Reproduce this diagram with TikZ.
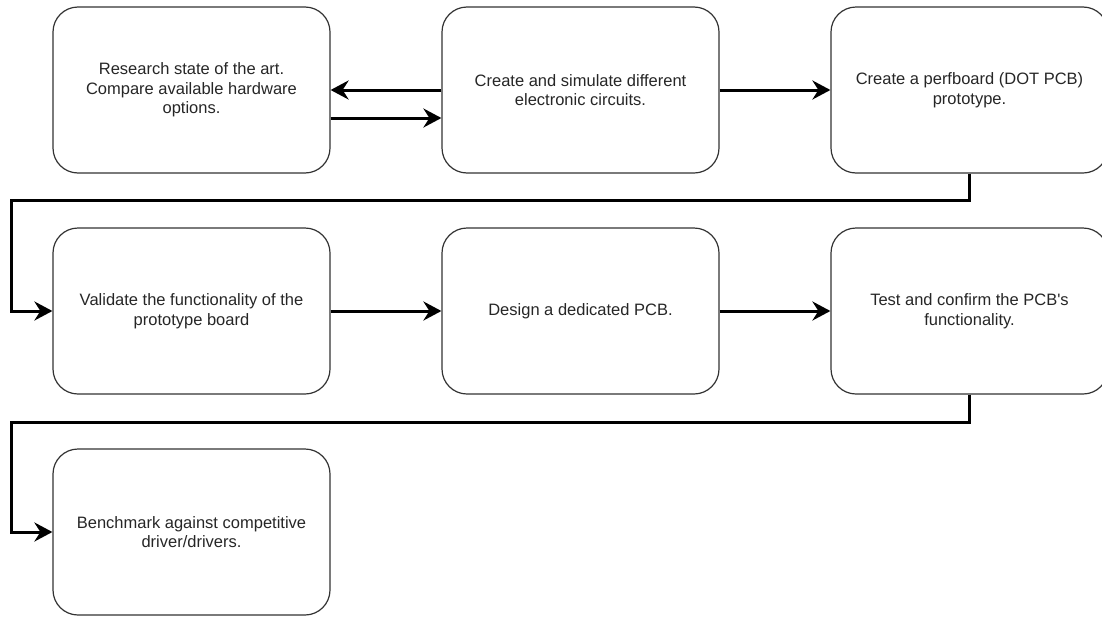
\documentclass[tikz,border=0pt]{standalone}
\usepackage{fontspec}
\setmainfont{Liberation Sans}
\usepackage{xcolor}
\usetikzlibrary{arrows.meta}

\begin{document}
\begin{tikzpicture}[x=1pt,y=1pt,node distance=221pt]
      \tikzstyle{stage} = [rectangle, rounded corners=25pt, minimum width=277pt, minimum height=166pt, align=center, draw=black!80, line width=1.2pt, text=black!85, font=\fontsize{16.5}{19.5}\selectfont]
      \tikzstyle{arrow} = [line width=3pt,-{Stealth[length=18pt,width=19pt,inset=6pt]}]

      \useasboundingbox (0,0) rectangle (1102,-616);

      \node (research) [stage] at (191.5,-90) {Research state of the art.\\Compare available hardware\\options.};
      \node (simulate) [stage, right of=research, xshift=168pt] {Create and simulate different\\electronic circuits.};
      \node (perfboard) [stage, right of=simulate, xshift=168pt] {Create a perfboard (DOT PCB)\\prototype.};
      \node (validate) [stage, below of=research] {Validate the functionality of the\\prototype board};
      \node (design) [stage, right of=validate, xshift=168pt] {Design a dedicated PCB.};
      \node (test) [stage, right of=design, xshift=168pt] {Test and confirm the PCB\textquotesingle s\\functionality.};
      \node (benchmark) [stage, below of=validate] {Benchmark against competitive\\driver/drivers.};

      \coordinate (turn1) at (11,-200);
      \coordinate (turn2) at (11,-422);

      \draw [arrow] (simulate.west) -- (research.east);
      \draw [arrow] ([yshift=-28pt]research.east) -- ([yshift=-28pt]simulate.west);
      \draw [arrow] (simulate) -- (perfboard);
      \draw [arrow] (perfboard.south) |- (turn1) |- (validate.west);
      \draw [arrow] (validate) -- (design);
      \draw [arrow] (design) -- (test);
      \draw [arrow] (test.south) |- (turn2) |- (benchmark.west);
    \end{tikzpicture}
\end{document}
